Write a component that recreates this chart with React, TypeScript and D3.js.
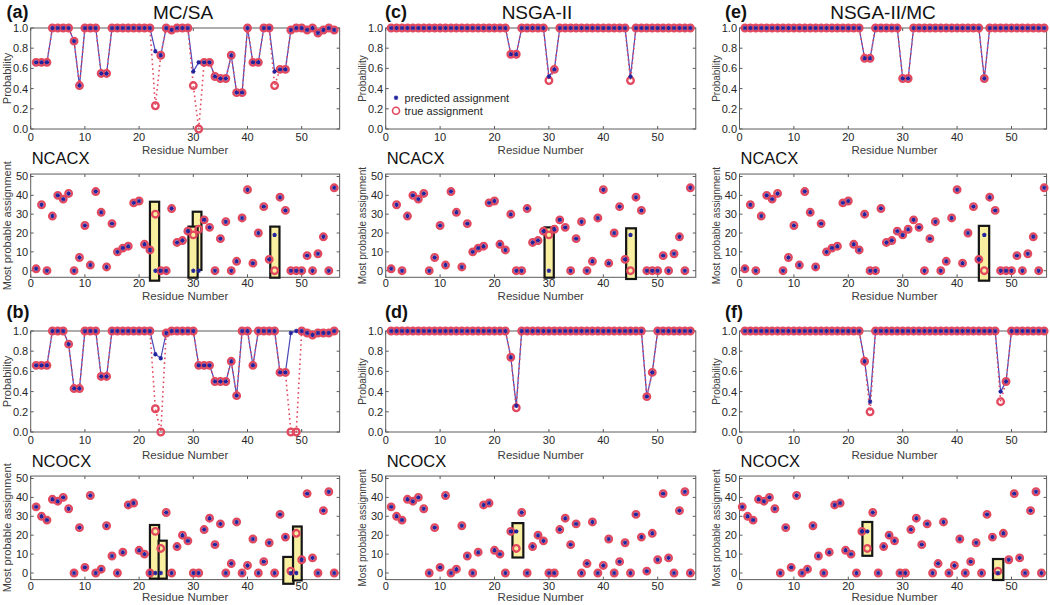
import React from 'react';
import * as d3 from 'd3';

// ---------- categories / ticks / text ----------
const residues = d3.range(1, 57);
const xTicks = [0, 10, 20, 30, 40, 50];
const probTicks = [0, 0.2, 0.4, 0.6, 0.8, 1];
const assignTicks = [0, 10, 20, 30, 40, 50];
const methods = ['MC/SA', 'NSGA-II', 'NSGA-II/MC'];
const letters = [['(a)', '(b)'], ['(c)', '(d)'], ['(e)', '(f)']];
const experiments = ['NCACX', 'NCOCX'];
const legendLabels = ['predicted assignment', 'true assignment'];

// ---------- probabilities (residues 1..56) ----------
const probA_pred = [
  0.66, 0.66, 0.66, 1, 1, 1, 1, 0.87, 0.43, 1,
  1, 1, 0.55, 0.55, 1, 1, 1, 1, 1, 1,
  1, 1, 0.77, 0.73, 1, 0.98, 1, 1, 1, 0.57,
  0.66, 0.66, 0.66, 0.52, 0.5, 0.5, 0.73, 0.36, 0.36, 1,
  0.66, 0.66, 1, 1, 0.57, 0.59, 0.59, 0.98, 1, 1,
  0.98, 1, 0.95, 0.98, 1, 0.98];
const probA_true = [
  0.66, 0.66, 0.66, 1, 1, 1, 1, 0.87, 0.43, 1,
  1, 1, 0.55, 0.55, 1, 1, 1, 1, 1, 1,
  1, 1, 0.23, 0.73, 1, 0.98, 1, 1, 1, 0.43,
  0, 0.66, 0.66, 0.52, 0.5, 0.5, 0.73, 0.36, 0.36, 1,
  0.66, 0.66, 1, 1, 0.43, 0.59, 0.59, 0.98, 1, 1,
  0.98, 1, 0.95, 0.98, 1, 0.98];
const probB_pred = [
  0.66, 0.66, 0.66, 1, 1, 1, 0.87, 0.43, 0.43, 1,
  1, 1, 0.55, 0.55, 1, 1, 1, 1, 1, 1,
  1, 1, 0.77, 0.73, 0.98, 1, 1, 1, 1, 1,
  0.66, 0.66, 0.66, 0.5, 0.5, 0.5, 0.7, 0.36, 1, 1,
  0.66, 1, 1, 1, 1, 0.59, 0.59, 0.98, 1, 1,
  0.98, 0.96, 0.98, 0.98, 0.98, 1];
const probB_true = [
  0.66, 0.66, 0.66, 1, 1, 1, 0.87, 0.43, 0.43, 1,
  1, 1, 0.55, 0.55, 1, 1, 1, 1, 1, 1,
  1, 1, 0.23, 0, 0.98, 1, 1, 1, 1, 1,
  0.66, 0.66, 0.66, 0.5, 0.5, 0.5, 0.7, 0.36, 1, 1,
  0.66, 1, 1, 1, 1, 0.59, 0.59, 0, 0, 1,
  0.98, 0.96, 0.98, 0.98, 0.98, 1];
const probC_pred = [
  1, 1, 1, 1, 1, 1, 1, 1, 1, 1,
  1, 1, 1, 1, 1, 1, 1, 1, 1, 1,
  1, 1, 0.74, 0.74, 1, 1, 1, 1, 1, 0.52,
  0.59, 1, 1, 1, 1, 1, 1, 1, 1, 1,
  1, 1, 1, 1, 0.52, 1, 1, 1, 1, 1,
  1, 1, 1, 1, 1, 1];
const probC_true = [
  1, 1, 1, 1, 1, 1, 1, 1, 1, 1,
  1, 1, 1, 1, 1, 1, 1, 1, 1, 1,
  1, 1, 0.74, 0.74, 1, 1, 1, 1, 1, 0.48,
  0.59, 1, 1, 1, 1, 1, 1, 1, 1, 1,
  1, 1, 1, 1, 0.48, 1, 1, 1, 1, 1,
  1, 1, 1, 1, 1, 1];
const probD_pred = [
  1, 1, 1, 1, 1, 1, 1, 1, 1, 1,
  1, 1, 1, 1, 1, 1, 1, 1, 1, 1,
  1, 1, 0.74, 0.26, 1, 1, 1, 1, 1, 1,
  1, 1, 1, 1, 1, 1, 1, 1, 1, 1,
  1, 1, 1, 1, 1, 1, 1, 0.35, 0.59, 1,
  1, 1, 1, 1, 1, 1];
const probD_true = [
  1, 1, 1, 1, 1, 1, 1, 1, 1, 1,
  1, 1, 1, 1, 1, 1, 1, 1, 1, 1,
  1, 1, 0.74, 0.24, 1, 1, 1, 1, 1, 1,
  1, 1, 1, 1, 1, 1, 1, 1, 1, 1,
  1, 1, 1, 1, 1, 1, 1, 0.35, 0.59, 1,
  1, 1, 1, 1, 1, 1];
const probE_pred = [
  1, 1, 1, 1, 1, 1, 1, 1, 1, 1,
  1, 1, 1, 1, 1, 1, 1, 1, 1, 1,
  1, 1, 0.7, 0.7, 1, 1, 1, 1, 1, 0.5,
  0.5, 1, 1, 1, 1, 1, 1, 1, 1, 1,
  1, 1, 1, 1, 0.5, 1, 1, 1, 1, 1,
  1, 1, 1, 1, 1, 1];
const probE_true = [
  1, 1, 1, 1, 1, 1, 1, 1, 1, 1,
  1, 1, 1, 1, 1, 1, 1, 1, 1, 1,
  1, 1, 0.7, 0.7, 1, 1, 1, 1, 1, 0.5,
  0.5, 1, 1, 1, 1, 1, 1, 1, 1, 1,
  1, 1, 1, 1, 0.5, 1, 1, 1, 1, 1,
  1, 1, 1, 1, 1, 1];
const probF_pred = [
  1, 1, 1, 1, 1, 1, 1, 1, 1, 1,
  1, 1, 1, 1, 1, 1, 1, 1, 1, 1,
  1, 1, 0.7, 0.3, 1, 1, 1, 1, 1, 1,
  1, 1, 1, 1, 1, 1, 1, 1, 1, 1,
  1, 1, 1, 1, 1, 1, 1, 0.4, 0.5, 1,
  1, 1, 1, 1, 1, 1];
const probF_true = [
  1, 1, 1, 1, 1, 1, 1, 1, 1, 1,
  1, 1, 1, 1, 1, 1, 1, 1, 1, 1,
  1, 1, 0.7, 0.2, 1, 1, 1, 1, 1, 1,
  1, 1, 1, 1, 1, 1, 1, 1, 1, 1,
  1, 1, 1, 1, 1, 1, 1, 0.3, 0.5, 1,
  1, 1, 1, 1, 1, 1];

// ---------- most probable assignments ----------
const ncacxTrue = [
  1, 35, 0, 29, 40, 38, 41, 0, 7, 24,
  3, 42, 31, 2, 25, 10, 12, 13, 36, 37,
  14, 11, 30, 0, 0, 33, 15, 16, 21, 19,
  22, 27, 23, 0, 17, 26, 0, 5, 28, 43,
  4, 20, 34, 6, 0, 39, 32, 0, 0, 0,
  8, 0, 9, 18, 0, 44];
const ncacxPredA = [
  1, 35, 0, 29, 40, 38, 41, 0, 7, 24,
  3, 42, 31, 2, 25, 10, 12, 13, 36, 37,
  14, 11, 0, 0, 0, 33, 15, 16, 21, 0,
  0, 27, 23, 0, 17, 26, 0, 5, 28, 43,
  4, 20, 34, 6, 19, 39, 32, 0, 0, 0,
  8, 0, 9, 18, 0, 44];
const ncacxPredC = [
  1, 35, 0, 29, 40, 38, 41, 0, 7, 24,
  3, 42, 31, 2, 25, 10, 12, 13, 36, 37,
  14, 11, 30, 0, 0, 33, 15, 16, 21, 0,
  22, 27, 23, 0, 17, 26, 0, 5, 28, 43,
  4, 20, 34, 6, 19, 39, 32, 0, 0, 0,
  8, 0, 9, 18, 0, 44];
const ncacxPredE = [
  1, 35, 0, 29, 40, 38, 41, 0, 7, 24,
  3, 42, 31, 2, 25, 10, 12, 13, 36, 37,
  14, 11, 30, 0, 0, 33, 15, 16, 21, 19,
  22, 27, 23, 0, 17, 26, 0, 5, 28, 43,
  4, 20, 34, 6, 19, 39, 32, 0, 0, 0,
  8, 0, 9, 18, 0, 44];
const ncocxTrue = [
  35, 30, 28, 39, 38, 40, 34, 0, 24, 3,
  41, 0, 2, 25, 9, 0, 11, 36, 37, 12,
  10, 0, 22, 13, 32, 0, 14, 20, 17, 0,
  0, 23, 29, 15, 26, 0, 5, 27, 0, 4,
  18, 0, 6, 16, 0, 31, 19, 1, 21, 7,
  42, 8, 0, 33, 43, 0];
const ncocxPredB = [
  35, 30, 28, 39, 38, 40, 34, 0, 24, 3,
  41, 0, 2, 25, 9, 0, 11, 36, 37, 12,
  10, 0, 0, 0, 32, 0, 14, 20, 17, 0,
  0, 23, 29, 15, 26, 0, 5, 27, 0, 4,
  18, 0, 6, 16, 0, 31, 19, 0, 0, 7,
  42, 8, 0, 33, 43, 0];
const ncocxPredD = [
  35, 30, 28, 39, 38, 40, 34, 0, 24, 3,
  41, 0, 2, 25, 9, 0, 11, 36, 37, 12,
  10, 0, 22, 22, 32, 0, 14, 20, 17, 0,
  0, 23, 29, 15, 26, 0, 5, 27, 0, 4,
  18, 0, 6, 16, 0, 31, 19, 1, 21, 7,
  42, 8, 0, 33, 43, 0];
const ncocxPredF = [
  35, 30, 28, 39, 38, 40, 34, 0, 24, 3,
  41, 0, 2, 25, 9, 0, 11, 36, 37, 12,
  10, 0, 22, 22, 32, 0, 14, 20, 17, 0,
  0, 23, 29, 15, 26, 0, 5, 27, 0, 4,
  18, 0, 6, 16, 0, 31, 19, 0, 21, 7,
  42, 8, 0, 33, 43, 0];

// highlight boxes, in data units: [x0, x1, y0, y1]
const boxesA = [[22.0, 23.7, -5.3, 36.6], [29.9, 31.5, 0.4, 31.3], [29.1, 30.8, -3.7, 23.4], [44.2, 45.9, -3.7, 23.4]];
const boxesB = [[22.0, 23.7, -3.0, 25.4], [23.6, 25.1, -3.0, 17.1], [46.6, 48.5, -5.7, 8.5], [48.4, 50.0, -3.9, 24.6]];
const boxesC = [[29.2, 30.9, -3.7, 23.0], [44.2, 46.0, -4.4, 22.5]];
const boxesD = [[23.3, 25.3, 8.2, 26.4]];
const boxesE = [[44.0, 45.9, -5.3, 23.8]];
const boxesF = [[22.6, 24.4, 9.1, 27.0], [46.6, 48.5, -3.7, 7.4]];
// x offset of plotted residues (panel f's lower plot is drawn half a residue to the left)
const residueShift = [[0, 0], [0, 0], [0, -0.5]];

const probPred = [[probA_pred, probB_pred], [probC_pred, probD_pred], [probE_pred, probF_pred]];
const probTrue = [[probA_true, probB_true], [probC_true, probD_true], [probE_true, probF_true]];
const assignPred = [[ncacxPredA, ncocxPredB], [ncacxPredC, ncocxPredD], [ncacxPredE, ncocxPredF]];
const assignTrue = [[ncacxTrue, ncocxTrue], [ncacxTrue, ncocxTrue], [ncacxTrue, ncocxTrue]];
const boxSets = [[boxesA, boxesB], [boxesC, boxesD], [boxesE, boxesF]];

// ---------- layout ----------
const COLS = [
  { left: 30.7, unit: 5.42, xMax: 57, title: 183, letter: 6.5, ylab: 6.5, ylabSize: 11 },
  { left: 385.7, unit: 5.44, xMax: 57, title: 537, letter: 385, ylab: 362, ylabSize: 10 },
  { left: 739.5, unit: 5.44, xMax: 56.45, title: 883, letter: 725, ylab: 716, ylabSize: 10 },
];
const ROWS = [
  { kind: 'prob', top: 28, bottom: 129, tickBase: 140.5, labBase: 154, letterBase: 17.5 },
  { kind: 'assign', y50: 176.5, y0: 270.7, tickBase: 286.5, labBase: 300, nameBase: 164 },
  { kind: 'prob', top: 331, bottom: 432, tickBase: 444, labBase: 458.5, letterBase: 318 },
  { kind: 'assign', y50: 478.5, y0: 573, tickBase: 590, labBase: 600.5, nameBase: 466.5 },
];
const ASSIGN_LO = -3.5;
const ASSIGN_HI = 51.3;

const FONT = '"Liberation Sans", Arial, Helvetica, sans-serif';
const BLUE = '#22229c';
const BLUE_LINE = '#4848b8';
const RED = '#e2495f';
const BOX_FILL = '#f8f0a0';
const AXIS = '#5c5c5c';
const TICKTXT = '#262626';
const LABTXT = '#3c3c3c';
const TICK = 3;

const star = (cx: number, cy: number, s: number) => {
  const d = s * 0.72;
  return `M${cx - s},${cy}L${cx + s},${cy}M${cx},${cy - s}L${cx},${cy + s}` +
    `M${cx - d},${cy - d}L${cx + d},${cy + d}M${cx - d},${cy + d}L${cx + d},${cy - d}`;
};

function Panel({ ci, ri }: { ci: number; ri: number }) {
  const c = COLS[ci];
  const r: any = ROWS[ri];
  const g = ri >> 1;
  const isProb = r.kind === 'prob';
  const x = d3.scaleLinear().domain([0, 50]).range([c.left, c.left + 50 * c.unit]);
  const y = isProb
    ? d3.scaleLinear().domain([0, 1]).range([r.bottom, r.top])
    : d3.scaleLinear().domain([0, 50]).range([r.y0, r.y50]);
  const lo = isProb ? 0 : ASSIGN_LO;
  const hi = isProb ? 1 : ASSIGN_HI;
  const X0 = x(0), X1 = x(c.xMax), Y0 = y(lo), Y1 = y(hi);
  const yTicks = isProb ? probTicks : assignTicks;
  const fmt = isProb ? d3.format('.1f') : d3.format('d');
  const shift = isProb ? 0 : residueShift[ci][g];

  const els: any[] = [];

  // frame
  els.push(<rect key="frame" x={X0} y={Y1} width={X1 - X0} height={Y0 - Y1} fill="white" stroke={AXIS} strokeWidth={1} />);
  xTicks.forEach((t) => {
    els.push(<line key={'xtb' + t} x1={x(t)} x2={x(t)} y1={Y0} y2={Y0 - TICK} stroke={AXIS} />);
    els.push(<line key={'xtt' + t} x1={x(t)} x2={x(t)} y1={Y1} y2={Y1 + TICK} stroke={AXIS} />);
    els.push(<text key={'xl' + t} x={x(t)} y={r.tickBase} textAnchor="middle" fontSize={11} fill={TICKTXT} fontFamily={FONT}>{t}</text>);
  });
  yTicks.forEach((t) => {
    els.push(<line key={'ytl' + t} x1={X0} x2={X0 + TICK} y1={y(t)} y2={y(t)} stroke={AXIS} />);
    els.push(<line key={'ytr' + t} x1={X1} x2={X1 - TICK} y1={y(t)} y2={y(t)} stroke={AXIS} />);
    els.push(<text key={'yl' + t} x={X0 - 2.5} y={y(t)} dy="0.36em" textAnchor="end" fontSize={11} fill={TICKTXT} fontFamily={FONT}>{fmt(t)}</text>);
  });
  // axis labels
  els.push(<text key="xlab" x={(X0 + x(57)) / 2} y={r.labBase} textAnchor="middle" fontSize={11.5} fill={LABTXT} fontFamily={FONT}>Residue Number</text>);
  const cy = (Y0 + Y1) / 2;
  els.push(<text key="ylab" x={0} y={0} transform={`translate(${c.ylab},${cy}) rotate(-90)`} textAnchor="middle" dominantBaseline="central" fontSize={c.ylabSize} fill={LABTXT} fontFamily={FONT}>{isProb ? 'Probability' : 'Most probable assignment'}</text>);

  if (isProb) {
    const pred = probPred[ci][g];
    const tru = probTrue[ci][g];
    const line = d3.line<number>().x((_, i) => x(residues[i])).y((d) => y(d));
    els.push(<path key="bl" d={line(pred) || ''} fill="none" stroke={BLUE_LINE} strokeWidth={1.2} />);
    els.push(<path key="rl" d={line(tru) || ''} fill="none" stroke={RED} strokeWidth={1.6} strokeDasharray="1.6 3.2" />);
    tru.forEach((v, i) => els.push(<circle key={'rc' + i} cx={x(residues[i])} cy={y(v)} r={3.3} fill="none" stroke={RED} strokeWidth={2.3} />));
    pred.forEach((v, i) => els.push(<path key={'bs' + i} d={star(x(residues[i]), y(v), 2.2)} stroke={BLUE} strokeWidth={1.1} fill="none" />));
    // letter & title
    if (g === 0) {
      els.push(<text key="title" x={c.title} y={18.5} textAnchor="middle" fontSize={19} fill="#111" fontFamily={FONT}>{methods[ci]}</text>);
    }
    els.push(<text key="letter" x={c.letter} y={r.letterBase} fontSize={18} fontWeight="bold" fill="#111" fontFamily={FONT}>{letters[ci][g]}</text>);
    if (ci === 1 && g === 0) {
      const lx = x(1.9);
      const ly1 = y(0.31), ly2 = y(0.18);
      els.push(<path key="lgs" d={star(lx, ly1, 2.2)} stroke={BLUE} strokeWidth={1.1} fill="none" />);
      els.push(<circle key="lgc" cx={lx} cy={ly2} r={3.5} fill="none" stroke={RED} strokeWidth={1.6} />);
      els.push(<text key="lgt1" x={lx + 8.5} y={ly1} dy="0.36em" fontSize={11} fill={TICKTXT} fontFamily={FONT}>{legendLabels[0]}</text>);
      els.push(<text key="lgt2" x={lx + 8.5} y={ly2} dy="0.36em" fontSize={11} fill={TICKTXT} fontFamily={FONT}>{legendLabels[1]}</text>);
    }
  } else {
    const pred = assignPred[ci][g];
    const tru = assignTrue[ci][g];
    const boxes = boxSets[ci][g];
    els.push(<text key="name" x={X0 + 1} y={r.nameBase} fontSize={16.5} fill="#111" fontFamily={FONT}>{experiments[g]}</text>);
    boxes.forEach((b, i) => els.push(
      <rect key={'bx' + i} x={x(b[0])} y={y(b[3])} width={x(b[1]) - x(b[0])} height={y(b[2]) - y(b[3])} fill={BOX_FILL} stroke="#151515" strokeWidth={2.2} />));
    tru.forEach((v, i) => els.push(<circle key={'rc' + i} cx={x(residues[i] + shift)} cy={y(v)} r={3.3} fill="none" stroke={RED} strokeWidth={2.3} />));
    pred.forEach((v, i) => els.push(<path key={'bs' + i} d={star(x(residues[i] + shift), y(v), 2.2)} stroke={BLUE} strokeWidth={1.1} fill="none" />));
  }
  return <g>{els}</g>;
}

export default function App() {
  const cells: any[] = [];
  COLS.forEach((_, ci) => ROWS.forEach((__, ri) => cells.push(<Panel key={`${ci}-${ri}`} ci={ci} ri={ri} />)));
  return (
    <div style={{ position: 'absolute', left: 0, top: 0, width: 1050, height: 605, background: 'white' }}>
      <svg width={1050} height={605} viewBox="0 0 1050 605" style={{ display: 'block' }}>
        <rect x={0} y={0} width={1050} height={605} fill="white" />
        {cells}
      </svg>
    </div>
  );
}
